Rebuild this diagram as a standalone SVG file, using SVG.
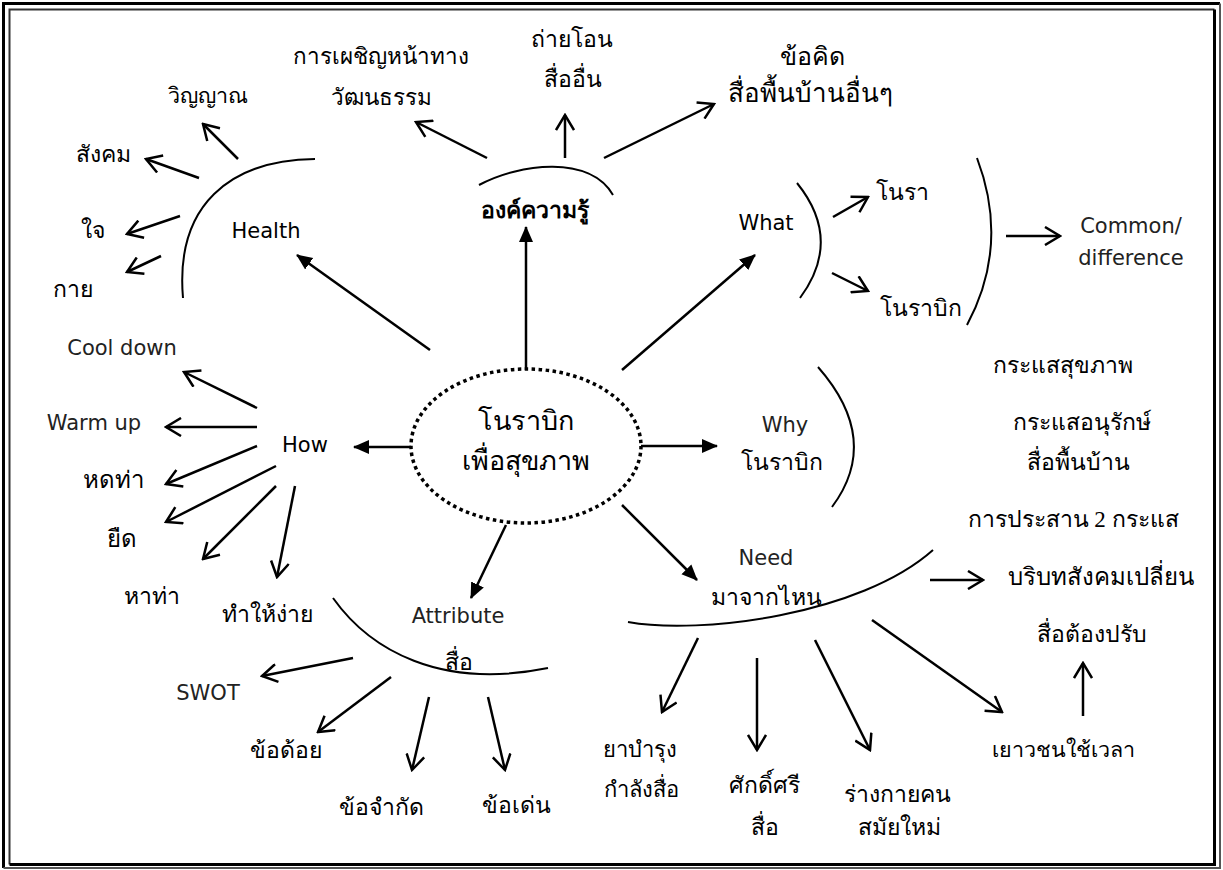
<svg xmlns="http://www.w3.org/2000/svg" width="1223" height="870" viewBox="0 0 1223 870">
<style>
.th{font-family:"Liberation Serif",serif;font-size:23px;font-weight:300;text-anchor:middle;fill:#000}
.la{font-family:"DejaVu Sans",sans-serif;font-size:21px;text-anchor:middle;fill:#000}
.lb{font-family:"DejaVu Sans",sans-serif;font-size:21px;text-anchor:middle;fill:#222}
.arc{stroke:#000;stroke-width:2;fill:none}
.oa{stroke:#000;stroke-width:2.5;fill:none;marker-end:url(#open)}
.fa{stroke:#000;stroke-width:2.5;fill:none;marker-end:url(#fill)}
</style>
<defs>
<marker id="open" viewBox="0 0 20 20" refX="18" refY="10" markerWidth="20" markerHeight="20" markerUnits="userSpaceOnUse" orient="auto">
<path d="M3,1 L18,10 L3,19" fill="none" stroke="#000" stroke-width="2.5" stroke-linejoin="miter"/>
</marker>
<marker id="fill" viewBox="0 0 16 16" refX="15" refY="8" markerWidth="16" markerHeight="16" markerUnits="userSpaceOnUse" orient="auto">
<path d="M0,1 L16,8 L0,15 Z" fill="#000"/>
</marker>
</defs>
<rect width="1223" height="870" fill="#fff"/>
<g id="border" fill="none" stroke="#000">
<path d="M3.5,868 V3.5 H1220" stroke-width="3"/>
<path d="M1220,3.5 V868 H3.5" stroke-width="2" stroke="#555"/>
<path d="M9.5,864.5 V9.5 H1214.5" stroke-width="2" stroke="#333"/>
<path d="M1214.5,9.5 V864.5 H9.5" stroke-width="3"/>
</g>
<g id="connectors">
<line class="fa" x1="526" y1="370" x2="526" y2="227"/>
<line class="fa" x1="430" y1="350" x2="297" y2="255"/>
<line class="fa" x1="622" y1="370" x2="755" y2="255"/>
<line class="fa" x1="411" y1="447" x2="354" y2="447"/>
<line class="fa" x1="641" y1="446" x2="717" y2="446"/>
<line class="fa" x1="506" y1="525" x2="471" y2="598"/>
<line class="fa" x1="622" y1="505" x2="697" y2="580"/>
<line class="oa" x1="238" y1="159" x2="203" y2="124"/>
<line class="oa" x1="199" y1="178" x2="146" y2="159"/>
<line class="oa" x1="180" y1="216" x2="127" y2="234"/>
<line class="oa" x1="161" y1="256" x2="127" y2="272"/>
<line class="oa" x1="487" y1="158" x2="416" y2="122"/>
<line class="oa" x1="565" y1="158" x2="565" y2="115"/>
<line class="oa" x1="604" y1="158" x2="714" y2="104"/>
<line class="oa" x1="833" y1="217" x2="868" y2="197"/>
<line class="oa" x1="832" y1="273" x2="868" y2="291"/>
<line class="oa" x1="1006" y1="236" x2="1060" y2="236"/>
<line class="oa" x1="257" y1="408" x2="184" y2="372"/>
<line class="oa" x1="257" y1="427" x2="166" y2="427"/>
<line class="oa" x1="257" y1="446" x2="166" y2="484"/>
<line class="oa" x1="276" y1="466" x2="166" y2="522"/>
<line class="oa" x1="276" y1="486" x2="203" y2="559"/>
<line class="oa" x1="295" y1="486" x2="277" y2="577"/>
<line class="oa" x1="353" y1="658" x2="262" y2="676"/>
<line class="oa" x1="391" y1="677" x2="318" y2="732"/>
<line class="oa" x1="429" y1="697" x2="412" y2="770"/>
<line class="oa" x1="488" y1="697" x2="505" y2="770"/>
<line class="oa" x1="698" y1="638" x2="662" y2="712"/>
<line class="oa" x1="757" y1="658" x2="757" y2="750"/>
<line class="oa" x1="815" y1="640" x2="870" y2="750"/>
<line class="oa" x1="872" y1="620" x2="1002" y2="712"/>
<line class="oa" x1="930" y1="580" x2="983" y2="580"/>
<line class="oa" x1="1083" y1="716" x2="1083" y2="663"/>
</g>
<g id="center">
<ellipse cx="526" cy="446" rx="115" ry="77" fill="none" stroke="#000" stroke-width="3.5" stroke-dasharray="3.5 3.5"/>
<text class="th" x="526" y="430" style="font-size:27px">โนราบิก</text>
<text class="th" x="526" y="470" style="font-size:27px">เพื่อสุขภาพ</text>
</g>
<g id="health">
<path class="arc" d="M315,159 C230,160 175,205 183,298"/>
<text class="la" x="266" y="238">Health</text>
<text class="th" x="208" y="103" style="font-size:21.5px">วิญญาณ</text>
<text class="th" x="103" y="162">สังคม</text>
<text class="th" x="93" y="238">ใจ</text>
<text class="th" x="73" y="297">กาย</text>
</g>
<g id="knowledge">
<path class="arc" d="M479,185 C520,163 590,155 613,195"/>
<text class="th" x="535" y="218" style="font-weight:bold">องค์ความรู้</text>
<text class="th" x="381" y="64" style="font-size:22.5px">การเผชิญหน้าทาง</text>
<text class="th" x="381" y="105" style="font-size:22.5px">วัฒนธรรม</text>
<text class="th" x="572" y="47">ถ่ายโอน</text>
<text class="th" x="573" y="87">สื่ออื่น</text>
<text class="th" x="812" y="65" style="font-size:25px">ข้อคิด</text>
<text class="th" x="810" y="102" style="font-size:26px">สื่อพื้นบ้านอื่นๆ</text>
</g>
<g id="what">
<text class="la" x="766" y="230">What</text>
<path class="arc" d="M797,183 Q843,240 800,298"/>
<text class="th" x="902" y="200">โนรา</text>
<text class="th" x="921" y="316">โนราบิก</text>
<path class="arc" d="M977,158 Q1010,245 967,325"/>
<text class="lb" x="1131" y="233">Common/</text>
<text class="lb" x="1131" y="265">difference</text>
</g>
<g id="how">
<text class="la" x="305" y="452">How</text>
<text class="lb" x="122" y="355">Cool down</text>
<text class="lb" x="94" y="430">Warm up</text>
<text class="th" x="113" y="488" style="font-size:24px">หดท่า</text>
<text class="th" x="122" y="547" style="font-size:24px">ยืด</text>
<text class="th" x="152" y="604">หาท่า</text>
<text class="th" x="267" y="622">ทำให้ง่าย</text>
</g>
<g id="attribute">
<path class="arc" d="M333,598 C370,650 440,690 548,668"/>
<text class="lb" x="458" y="623">Attribute</text>
<text class="th" x="459" y="670">สื่อ</text>
<text class="lb" x="208" y="700">SWOT</text>
<text class="th" x="286" y="758">ข้อด้อย</text>
<text class="th" x="381" y="815">ข้อจำกัด</text>
<text class="th" x="516" y="813">ข้อเด่น</text>
</g>
<g id="why">
<text class="lb" x="785" y="432">Why</text>
<text class="th" x="782" y="470">โนราบิก</text>
<path class="arc" d="M818,367 Q882,440 832,507"/>
</g>
<g id="streams">
<text class="th" x="1063" y="373">กระแสสุขภาพ</text>
<text class="th" x="1082" y="430">กระแสอนุรักษ์</text>
<text class="th" x="1078" y="470">สื่อพื้นบ้าน</text>
<text class="th" x="1073" y="527">การประสาน 2 กระแส</text>
<text class="th" x="1101" y="585" style="font-size:24px">บริบทสังคมเปลี่ยน</text>
<text class="th" x="1092" y="642">สื่อต้องปรับ</text>
<text class="th" x="1063" y="757" style="font-size:21.5px">เยาวชนใช้เวลา</text>
</g>
<g id="need">
<text class="lb" x="766" y="565">Need</text>
<text class="th" x="766" y="605">มาจากไหน</text>
<path class="arc" d="M628,622 C700,635 860,615 933,550"/>
<text class="th" x="640" y="757" style="font-size:22px">ยาบำรุง</text>
<text class="th" x="641" y="797" style="font-size:22px">กำลังสื่อ</text>
<text class="th" x="764" y="793">ศักดิ์ศรี</text>
<text class="th" x="765" y="835">สื่อ</text>
<text class="th" x="897" y="802">ร่างกายคน</text>
<text class="th" x="899" y="835">สมัยใหม่</text>
</g>
</svg>
